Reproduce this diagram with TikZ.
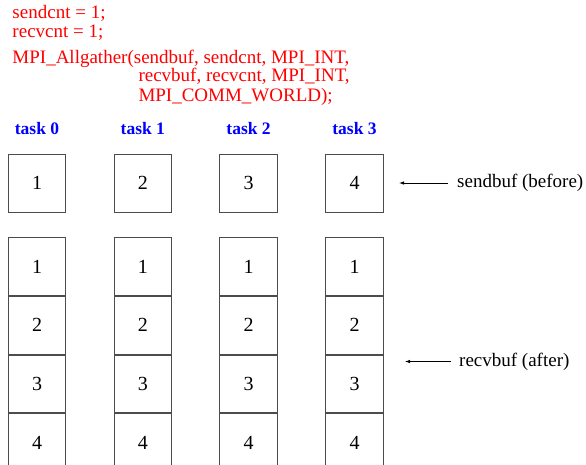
\documentclass[tikz,border=0pt]{standalone}
\usepackage{fontspec}
\setmainfont{Liberation Serif}
\usetikzlibrary{positioning,arrows.meta}

\tikzset{
  cell/.style={draw=black!70, line width=0.9pt, minimum width=57.5pt, minimum height=57.7pt,
    inner sep=0pt, font=\fontsize{20}{20}\selectfont},
  code/.style={text=red, anchor=base west, inner sep=0pt, font=\fontsize{19}{19}\selectfont},
  task/.style={text=blue, anchor=base, inner sep=0pt, font=\fontsize{17.5}{17.5}\selectfont\bfseries},
  buflabel/.style={anchor=west, inner sep=0pt, font=\fontsize{19}{19}\selectfont},
  bufarrow/.style={-{Latex[length=5pt,width=3.5pt]}, line width=0.8pt},
}

\begin{document}
\begin{tikzpicture}[x=1pt,y=-1pt]
  \clip (0,0) rectangle (586,465);
  \fill[white] (0,0) rectangle (586,465);
  % Aufruf:
  \node[code] (cnta) at (12.3,19) {sendcnt = 1;};
  \node[code] (cntb) at (12.3,37.7) {recvcnt = 1;};
  \node[code] (calla) at (12.3,63.3) {MPI\_Allgather(sendbuf, sendcnt, MPI\_INT,};
  \node[code] (callb) at (138.3,81.7) {recvbuf, recvcnt, MPI\_INT,};
  \node[code] (callc) at (138.3,101.7) {MPI\_COMM\_WORLD);};
  % Tasks:
  \node[task] (task0) at (37,135) {task 0};
  \node[task] (task1) at (142.8,135) {task 1};
  \node[task] (task2) at (248.6,135) {task 2};
  \node[task] (task3) at (354.5,135) {task 3};
  % sendbuf (vorher):
  \node[cell, minimum height=58pt] (send0) at (37,183.3) {1};
  \node[cell, minimum height=58pt] (send1) at (142.8,183.3) {2};
  \node[cell, minimum height=58pt] (send2) at (248.6,183.3) {3};
  \node[cell, minimum height=58pt] (send3) at (354.5,183.3) {4};
  % recvbuf (nachher):
  \node[cell] (recv0a) at (37,266.7) {1};
  \node[cell, below=0pt of recv0a] (recv0b) {2};
  \node[cell, below=0pt of recv0b] (recv0c) {3};
  \node[cell, below=0pt of recv0c] (recv0d) {4};
  \node[cell] (recv1a) at (142.8,266.7) {1};
  \node[cell, below=0pt of recv1a] (recv1b) {2};
  \node[cell, below=0pt of recv1b] (recv1c) {3};
  \node[cell, below=0pt of recv1c] (recv1d) {4};
  \node[cell] (recv2a) at (248.6,266.7) {1};
  \node[cell, below=0pt of recv2a] (recv2b) {2};
  \node[cell, below=0pt of recv2b] (recv2c) {3};
  \node[cell, below=0pt of recv2c] (recv2d) {4};
  \node[cell] (recv3a) at (354.5,266.7) {1};
  \node[cell, below=0pt of recv3a] (recv3b) {2};
  \node[cell, below=0pt of recv3b] (recv3c) {3};
  \node[cell, below=0pt of recv3c] (recv3d) {4};
  % Beschriftung rechts:
  \node[buflabel] (sendlbl) at (457,183) {sendbuf (before)};
  \node[buflabel] (recvlbl) at (459,361.5) {recvbuf (after)};
  \coordinate (sendtip) at (399,183);
  \coordinate (recvtip) at (405,361.5);
  \draw[bufarrow] ([xshift=-9pt]sendlbl.west) -- (sendtip);
  \draw[bufarrow] ([xshift=-8pt]recvlbl.west) -- (recvtip);
\end{tikzpicture}
\end{document}
